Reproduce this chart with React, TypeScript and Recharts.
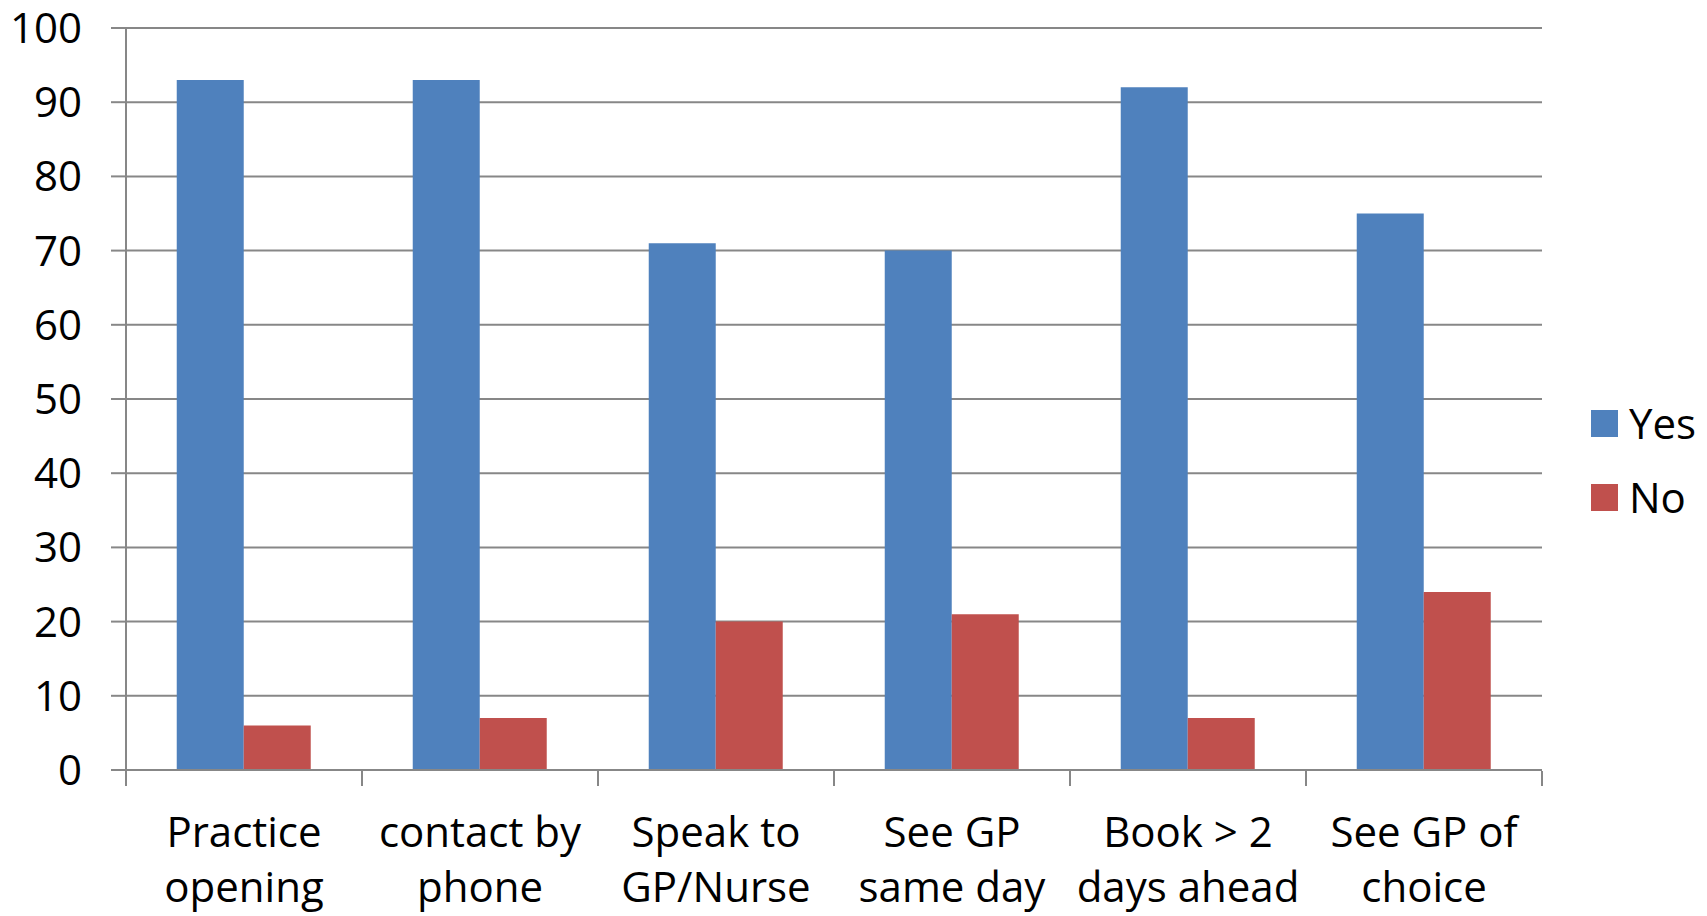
import { BarChart, Bar, XAxis, YAxis, CartesianGrid, Legend } from 'recharts'

// Survey answers per access question (percent)
const categories = [
  'Practice\nopening',
  'contact by\nphone',
  'Speak to\nGP/Nurse',
  'See GP\nsame day',
  'Book > 2\ndays ahead',
  'See GP of\nchoice',
]
const seriesNames = ['Yes', 'No']
const yesValues = [93, 93, 71, 70, 92, 75]
const noValues = [6, 7, 20, 21, 7, 24]
const yTicks = [0, 10, 20, 30, 40, 50, 60, 70, 80, 90, 100]
// category boundaries, used only for the tick marks between groups
const edgeTicks = [0, 1, 2, 3, 4, 5, 6]

const FONT = '"Open Sans", "Liberation Sans", sans-serif'
const FONT_SIZE = 42
const GRID = '#878787'
const YES = '#4F81BD'
const NO = '#C0504D'

// pos = slot centre on the boundary axis (0..6)
const data = categories.map((name, i) => ({ name, pos: i + 0.5, Yes: yesValues[i], No: noValues[i] }))

function CategoryTick(props: any) {
  const { x, y, payload } = props
  const lines = String(payload.value).split('\n')
  return (
    <text x={x} y={y} textAnchor="middle" fontFamily={FONT} fontSize={FONT_SIZE} fill="#000">
      {lines.map((line, i) => (
        <tspan key={i} x={x} y={y + 77 + i * 55}>
          {line}
        </tspan>
      ))}
    </text>
  )
}

// boundary axis only shows its tick marks
const EmptyTick = () => <g />

function LegendBox(props: any) {
  const items = [...(props.payload ?? [])].sort(
    (a: any, b: any) => seriesNames.indexOf(a.value) - seriesNames.indexOf(b.value),
  )
  return (
    <div style={{ fontFamily: FONT, fontSize: FONT_SIZE, color: '#000' }}>
      {items.map((item: any) => (
        <div key={item.value} style={{ display: 'flex', alignItems: 'center', height: 74 }}>
          <span style={{ width: 27, height: 27, background: item.color, marginRight: 11 }} />
          <span style={{ lineHeight: '54px' }}>{item.value}</span>
        </div>
      ))}
    </div>
  )
}

export default function App() {
  return (
    <div style={{ position: 'absolute', left: 0, top: 0, width: 1707, height: 916, background: '#fff' }}>
      <BarChart
        width={1707}
        height={916}
        data={data}
        margin={{ top: 28, right: 165, bottom: 144, left: 0 }}
        barCategoryGap="21.5%"
        barGap={0}
      >
        <CartesianGrid horizontal vertical={false} stroke={GRID} strokeWidth={2} />
        <XAxis
          dataKey="name"
          height={1}
          interval={0}
          tickLine={false}
          tickSize={0}
          tickMargin={0}
          axisLine={{ stroke: GRID, strokeWidth: 2 }}
          tick={<CategoryTick />}
        />
        <XAxis
          xAxisId="edges"
          dataKey="pos"
          type="number"
          domain={[0, 6]}
          ticks={edgeTicks}
          interval={0}
          allowDataOverflow
          height={1}
          axisLine={false}
          tick={<EmptyTick />}
          tickSize={15}
          tickLine={{ stroke: GRID, strokeWidth: 2 }}
        />
        <YAxis
          width={126}
          domain={[0, 100]}
          ticks={yTicks}
          interval={0}
          tickSize={15}
          tickMargin={29}
          axisLine={{ stroke: GRID, strokeWidth: 2 }}
          tickLine={{ stroke: GRID, strokeWidth: 2 }}
          tick={{ fontFamily: FONT, fontSize: FONT_SIZE, fill: '#000' }}
        />
        <Legend
          layout="vertical"
          align="center"
          verticalAlign="middle"
          content={<LegendBox />}
          wrapperStyle={{ left: 1591, top: 386, width: 116, height: 148 }}
        />
        <Bar dataKey="Yes" fill={YES} isAnimationActive={false} />
        <Bar dataKey="No" fill={NO} isAnimationActive={false} />
      </BarChart>
    </div>
  )
}
